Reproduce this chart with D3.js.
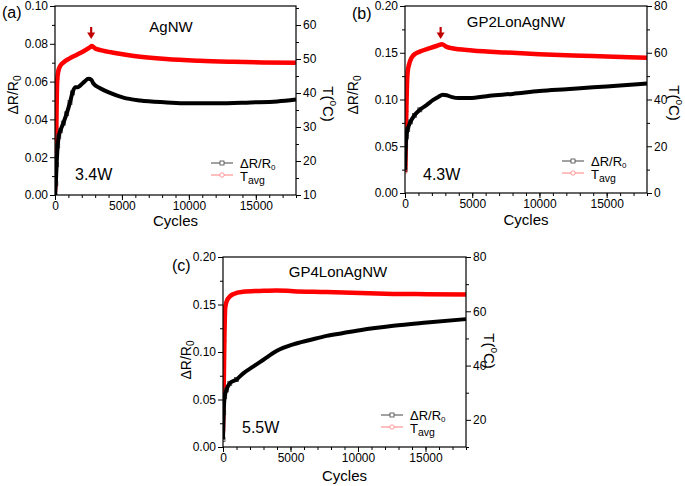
<!DOCTYPE html>
<html><head><meta charset="utf-8">
<script src="https://cdn.jsdelivr.net/npm/d3@7"></script>
<style>
body{margin:0;background:#fff}
text{font-family:"Liberation Sans",Arial,Helvetica,sans-serif;fill:#000}
</style>
</head><body>
<svg id="chart" width="685" height="486"></svg>
<script>
// ---- data ----
const xTickValues = [0, 5000, 10000, 15000];
const xMax = 18000;

// Panel (a) AgNW, 3.4W
const aResistance = [[0,0.000],[60,0.006],[120,0.016],[200,0.026],[280,0.031],[400,0.034],[620,0.038],[870,0.043],[1120,0.049],[1300,0.054],[1500,0.057],[1700,0.057],[1900,0.058],[2200,0.060],[2500,0.0615],[2700,0.061],[2870,0.059],[3370,0.0565],[4110,0.054],[5110,0.0515],[6360,0.050],[8350,0.049],[9850,0.0485],[12100,0.0485],[14600,0.049],[16600,0.0495],[18000,0.0505]];
const aTemperature = [[0,11],[30,15],[60,22],[100,30],[130,38],[170,44],[250,46.5],[400,48],[700,49.2],[1100,50.2],[1600,51.2],[2100,52.2],[2600,53.4],[2750,53.8],[3000,53.1],[3400,52.6],[4600,51.7],[5900,50.9],[8300,50.0],[10800,49.5],[13300,49.2],[15500,49.0],[18000,48.9]];
const aRTicks = [0, 0.02, 0.04, 0.06, 0.08, 0.10];
const aTTicks = [10, 20, 30, 40, 50, 60];

// Panel (b) GP2LonAgNW, 4.3W
const bResistance = [[0,0.025],[50,0.050],[100,0.060],[200,0.068],[400,0.076],[700,0.083],[1100,0.089],[1600,0.094],[2100,0.0995],[2500,0.103],[2800,0.105],[3100,0.1045],[3500,0.1025],[4000,0.1015],[4800,0.1015],[6300,0.104],[8000,0.106],[10000,0.109],[12000,0.111],[14000,0.113],[16000,0.115],[18000,0.117]];
const bTemperature = [[0,9],[30,12],[60,22],[100,35],[140,45],[200,52],[300,55],[500,58],[800,59.7],[1100,60.5],[1800,61.9],[2400,63],[2750,63.6],[3100,62.5],[3500,61.9],[5000,61.0],[7500,60.1],[10000,59.4],[12500,58.8],[15000,58.4],[18000,57.9]];
const bRTicks = [0, 0.05, 0.10, 0.15, 0.20];
const bTTicks = [0, 20, 40, 60, 80];

// Panel (c) GP4LonAgNW, 5.5W
const cResistance = [[0,0.008],[50,0.036],[125,0.053],[250,0.060],[500,0.067],[1000,0.071],[1500,0.0775],[2230,0.0846],[2970,0.0916],[3960,0.101],[5200,0.108],[6440,0.1126],[7670,0.117],[8910,0.120],[10150,0.123],[12620,0.1276],[15100,0.131],[18000,0.1346]];
const cTemperature = [[0,16],[50,31],[100,49],[170,61.7],[370,64.7],[740,66.3],[1490,67.2],[2720,67.5],[3960,67.7],[5200,67.4],[7670,67.1],[10150,66.7],[12620,66.4],[15100,66.3],[18000,66.2]];
const cRTicks = [0, 0.05, 0.10, 0.15, 0.20];
const cTTicks = [20, 40, 60, 80];

const panelLetters = ["(a)", "(b)", "(c)"];
const panelTitles = ["AgNW", "GP2LonAgNW", "GP4LonAgNW"];
const panelPowers = ["3.4W", "4.3W", "5.5W"];
const peakArrows = [2700, 2650, null];

// ---- layout ----
const panels = [
  {letter:panelLetters[0], title:panelTitles[0], power:panelPowers[0], R:aResistance, T:aTemperature,
   rDom:[0,0.10], rTicks:aRTicks, tDom:[10,65.6], tTicks:aTTicks, arrow:peakArrows[0],
   box:{l:55,r:296,t:6,b:195}, letterPos:[2,18], titlePos:[171,32], powerPos:[75,180],
   yLab:[13,95], tLab:[329,104], xLabY:226},
  {letter:panelLetters[1], title:panelTitles[1], power:panelPowers[1], R:bResistance, T:bTemperature,
   rDom:[0,0.20], rTicks:bRTicks, tDom:[0,80], tTicks:bTTicks, arrow:peakArrows[1],
   box:{l:405,r:647,t:6,b:193}, letterPos:[352,19], titlePos:[516,27], powerPos:[423,180],
   yLab:[353,95], tLab:[675,103], xLabY:225},
  {letter:panelLetters[2], title:panelTitles[2], power:panelPowers[2], R:cResistance, T:cTemperature,
   rDom:[0,0.20], rTicks:cRTicks, tDom:[10,80], tTicks:cTTicks, arrow:peakArrows[2],
   box:{l:223,r:466,t:257,b:447}, letterPos:[172,271], titlePos:[338,277], powerPos:[242,433],
   yLab:[186,360], tLab:[490,351], xLabY:481}
];

const svg = d3.select("#chart");

function mids(ticks, dom) {
  const step = ticks[1] - ticks[0];
  const out = [];
  for (let v = ticks[0] - step/2; v <= dom[1] + 1e-9; v += step/2) {
    if (v >= dom[0] - 1e-9) out.push(+v.toFixed(6));
  }
  return out.filter(v => !ticks.some(t => Math.abs(t - v) < 1e-9));
}

panels.forEach(p => {
  const g = svg.append("g");
  const b = p.box;
  const x = d3.scaleLinear().domain([0, xMax]).range([b.l, b.r]);
  const yR = d3.scaleLinear().domain(p.rDom).range([b.b, b.t]);
  const yT = d3.scaleLinear().domain(p.tDom).range([b.b, b.t]);

  const cid = "clip" + p.letter.replace(/[()]/g, "");
  svg.append("clipPath").attr("id", cid).append("rect")
    .attr("x", b.l).attr("y", b.t - 3).attr("width", b.r - b.l + 3).attr("height", b.b - b.t + 3);

  const plot = g.append("g").attr("clip-path", `url(#${cid})`);

  // Temperature (red)
  const lineT = d3.line().x(d => x(d[0])).y(d => yT(d[1])).curve(d3.curveMonotoneX);
  plot.selectAll("circle.t").data(p.T.filter(d => d[0] < 400)).join("circle")
    .attr("cx", d => x(d[0])).attr("cy", d => yT(d[1])).attr("r", 1.8)
    .attr("fill", "none").attr("stroke", "#ff6060").attr("stroke-width", 0.8);
  plot.append("path").datum(p.T).attr("d", lineT)
    .attr("fill", "none").attr("stroke", "#ff0000").attr("stroke-width", 4.5)
    .attr("stroke-linejoin", "round");

  // Resistance (black)
  const lineR = d3.line().x(d => x(d[0])).y(d => yR(d[1])).curve(d3.curveMonotoneX);
  plot.selectAll("rect.r").data(p.R.filter(d => d[0] < 1500)).join("rect")
    .attr("x", d => x(d[0]) - 2).attr("y", d => yR(d[1]) - 2).attr("width", 4).attr("height", 4)
    .attr("fill", "none").attr("stroke", "#444").attr("stroke-width", 0.8);
  plot.append("path").datum(p.R).attr("d", lineR)
    .attr("fill", "none").attr("stroke", "#000").attr("stroke-width", 4)
    .attr("stroke-linejoin", "round");

  // axes
  const fmtR = d3.format(".2f");
  const axStyle = sel => {
    sel.select(".domain").remove();
    sel.selectAll("line").attr("stroke", "#000").attr("stroke-width", 1);
    sel.selectAll("text").style("font-size", "12px").attr("fill", "#000");
  };
  g.append("g").attr("transform", `translate(0,${b.b})`)
    .call(d3.axisBottom(x).tickValues(d3.range(0, xMax + 1, 1000)).tickSize(3).tickFormat(""))
    .call(axStyle);
  g.append("g").attr("transform", `translate(0,${b.b})`)
    .call(d3.axisBottom(x).tickValues(xTickValues).tickSize(5).tickPadding(1).tickFormat(d3.format("d")))
    .call(axStyle);
  g.append("g").attr("transform", `translate(${b.l},0)`)
    .call(d3.axisLeft(yR).tickValues(mids(p.rTicks, p.rDom)).tickSize(3).tickFormat(""))
    .call(axStyle);
  g.append("g").attr("transform", `translate(${b.l},0)`)
    .call(d3.axisLeft(yR).tickValues(p.rTicks).tickSize(5).tickPadding(2).tickFormat(fmtR))
    .call(axStyle);
  g.append("g").attr("transform", `translate(${b.r},0)`)
    .call(d3.axisRight(yT).tickValues(mids(p.tTicks, p.tDom)).tickSize(3).tickFormat(""))
    .call(axStyle);
  g.append("g").attr("transform", `translate(${b.r},0)`)
    .call(d3.axisRight(yT).tickValues(p.tTicks).tickSize(5).tickPadding(2).tickFormat(d3.format("d")))
    .call(axStyle);
  g.append("rect").attr("x", b.l).attr("y", b.t).attr("width", b.r - b.l).attr("height", b.b - b.t)
    .attr("fill", "none").attr("stroke", "#000").attr("stroke-width", 1.2);

  // labels
  g.append("text").attr("x", p.letterPos[0]).attr("y", p.letterPos[1]).style("font-size", "16px").text(p.letter);
  g.append("text").attr("x", p.titlePos[0]).attr("y", p.titlePos[1]).attr("text-anchor", "middle")
    .style("font-size", "15px").text(p.title);
  g.append("text").attr("x", p.powerPos[0]).attr("y", p.powerPos[1]).style("font-size", "16px").text(p.power);
  g.append("text").attr("x", (b.l + b.r) / 2).attr("y", p.xLabY).attr("text-anchor", "middle")
    .style("font-size", "15px").text("Cycles");

  const yl = g.append("text").attr("transform", `translate(${p.yLab[0]},${p.yLab[1]}) rotate(-90)`)
    .attr("text-anchor", "middle").attr("dominant-baseline", "central").style("font-size", "14px");
  yl.append("tspan").text("ΔR/R");
  yl.append("tspan").attr("dy", 4).style("font-size", "10px").text("0");

  const tl = g.append("text").attr("transform", `translate(${p.tLab[0]},${p.tLab[1]}) rotate(90)`)
    .attr("text-anchor", "middle").attr("dominant-baseline", "central").style("font-size", "15px");
  tl.append("tspan").text("T(");
  tl.append("tspan").attr("dy", -5).style("font-size", "10px").text("o");
  tl.append("tspan").attr("dy", 5).text("C)");

  // legend
  const lx = b.r - 85, ly1 = b.b - 32, ly2 = b.b - 20;
  g.append("line").attr("x1", lx).attr("x2", lx + 22).attr("y1", ly1).attr("y2", ly1).attr("stroke", "#444").attr("stroke-width", 1);
  g.append("rect").attr("x", lx + 9).attr("y", ly1 - 2).attr("width", 4).attr("height", 4).attr("fill", "#fff").attr("stroke", "#444").attr("stroke-width", 0.8);
  g.append("line").attr("x1", lx).attr("x2", lx + 22).attr("y1", ly2).attr("y2", ly2).attr("stroke", "#ff8080").attr("stroke-width", 1);
  g.append("circle").attr("cx", lx + 11).attr("cy", ly2).attr("r", 2.2).attr("fill", "#fff").attr("stroke", "#ff8080").attr("stroke-width", 0.8);
  const lt1 = g.append("text").attr("x", lx + 29).attr("y", ly1 + 4.5).style("font-size", "13px");
  lt1.append("tspan").text("ΔR/R");
  lt1.append("tspan").attr("dy", 2).style("font-size", "8px").text("0");
  const lt2 = g.append("text").attr("x", lx + 29).attr("y", ly2 + 6).style("font-size", "13px");
  lt2.append("tspan").text("T");
  lt2.append("tspan").attr("dy", 3).style("font-size", "10.5px").text("avg");

  // peak arrow
  if (p.arrow !== null) {
    const ax = x(p.arrow);
    g.append("line").attr("x1", ax).attr("x2", ax).attr("y1", 27).attr("y2", 34)
      .attr("stroke", "#c00000").attr("stroke-width", 2.2);
    g.append("path").attr("d", `M${ax - 4},32.5L${ax + 4},32.5L${ax},39Z`).attr("fill", "#c00000");
  }
});
</script>
</body></html>
